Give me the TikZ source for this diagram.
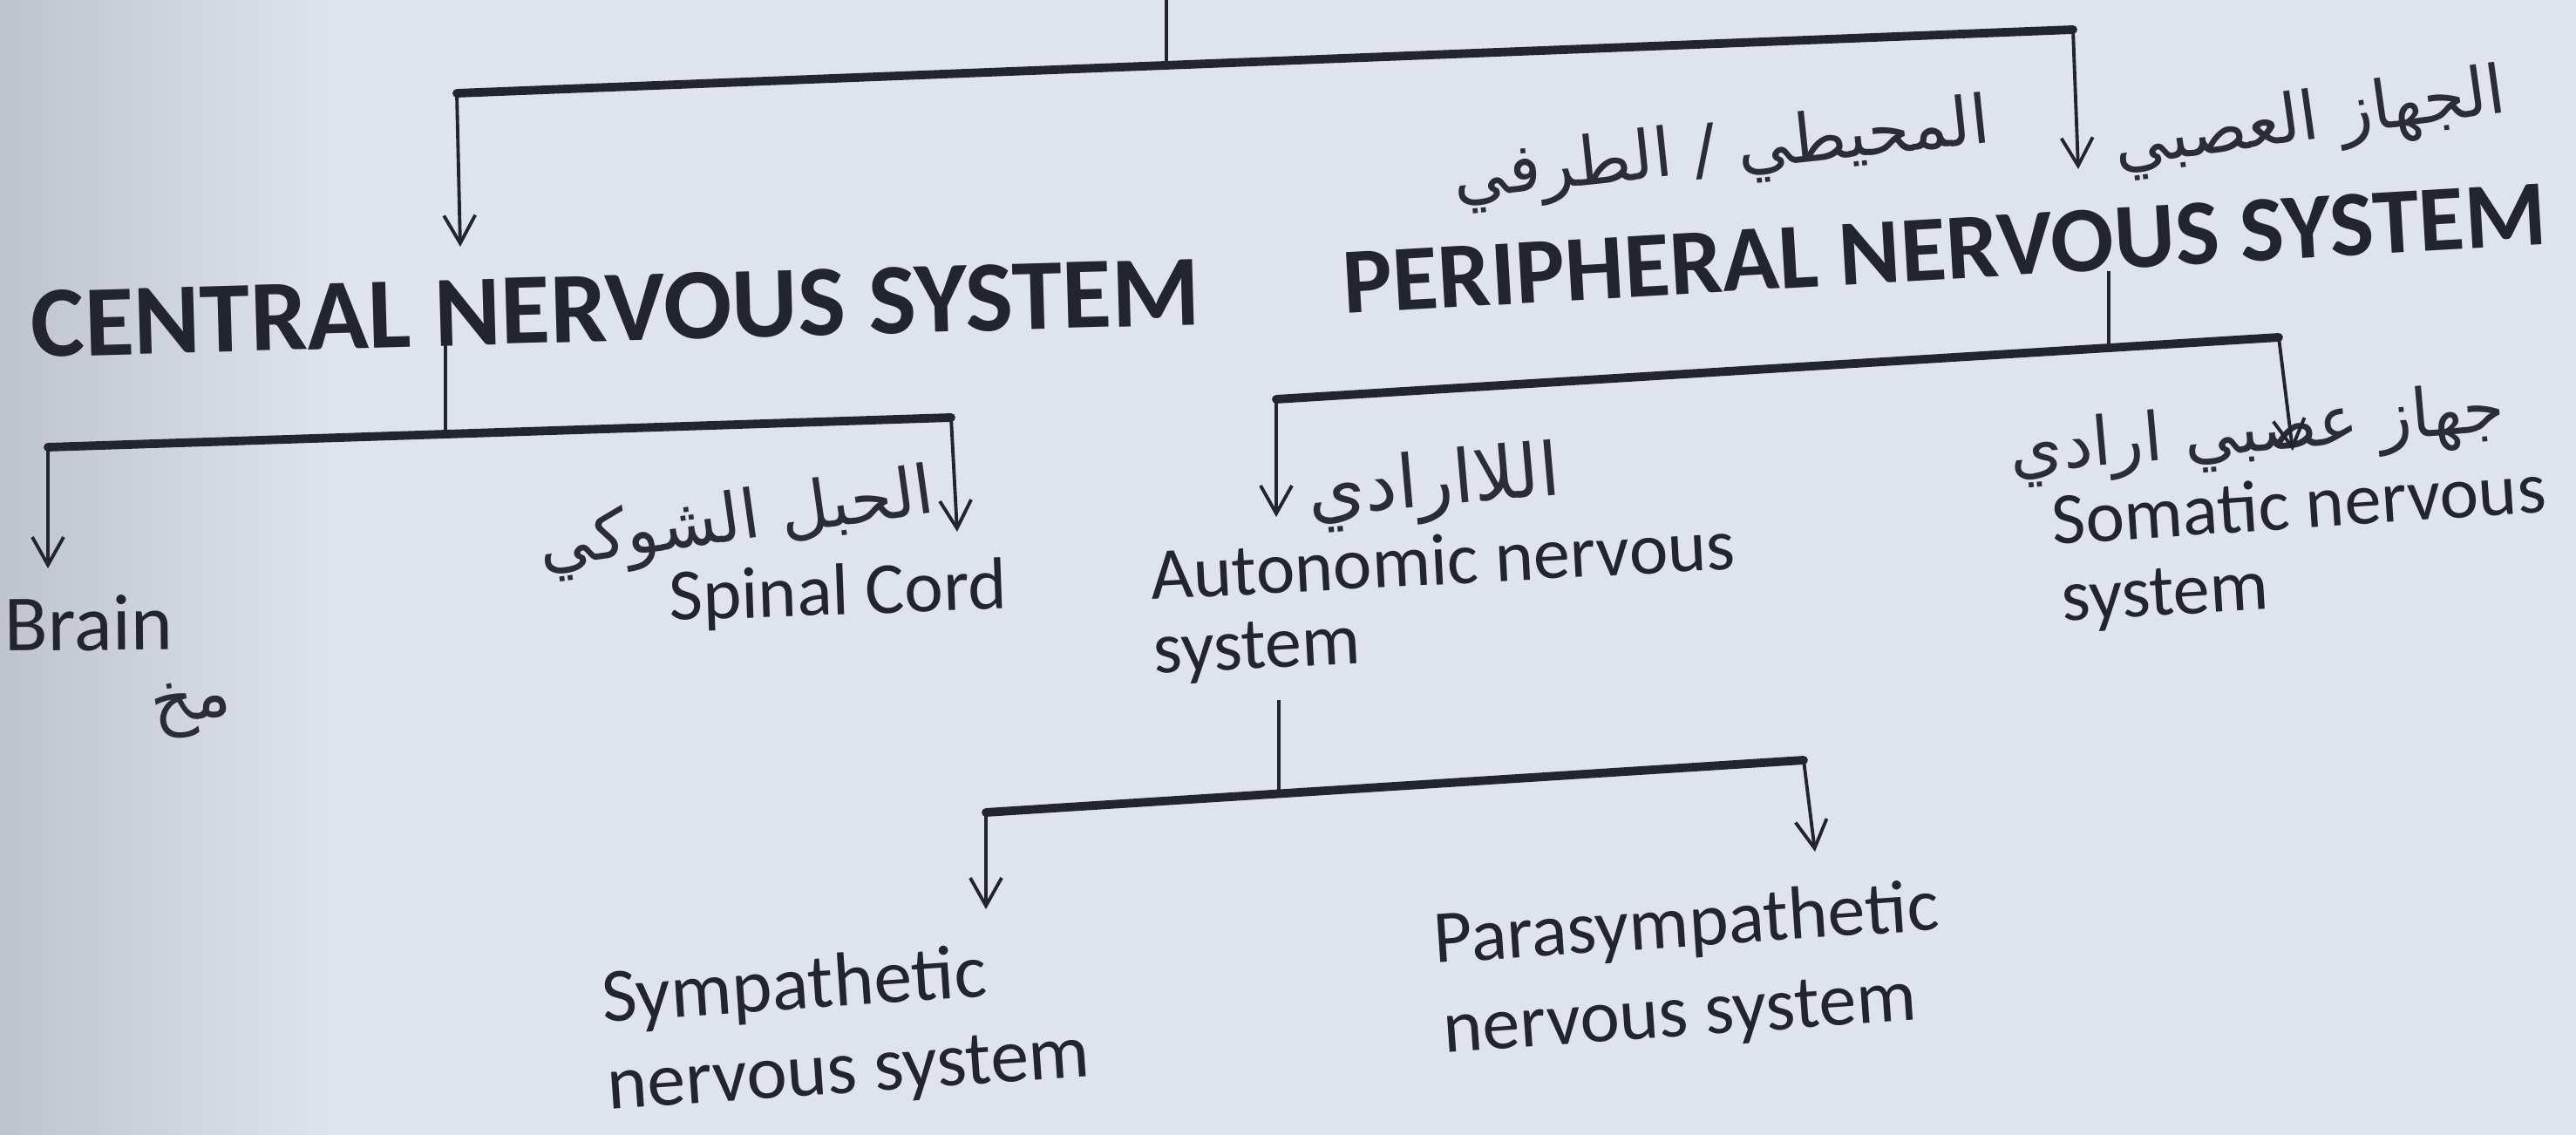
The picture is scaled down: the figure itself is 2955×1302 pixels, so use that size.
\documentclass[tikz,border=0pt]{standalone}
\usepackage{fontspec}
\setmainfont{Carlito}
\newfontfamily\arabicfont[Script=Arabic]{DejaVu Sans}
\TeXXeTstate=1
\usetikzlibrary{arrows.meta}
\definecolor{paper}{HTML}{DFE3EC}
\definecolor{paperdark}{HTML}{BFC3CC}
\definecolor{ink}{HTML}{22252E}
\definecolor{pen}{HTML}{2B2C36}
\tikzset{
  head/.style={inner sep=0pt, anchor=base west, text=ink, font=\fontsize{33}{38}\selectfont\bfseries},
  label/.style={inner sep=0pt, anchor=base west, text=ink, font=\fontsize{24}{28}\selectfont},
  hand/.style={inner sep=0pt, text=pen, font=\arabicfont\fontsize{22}{26}\selectfont},
  thinline/.style={draw=ink, line width=1.1pt},
  barline/.style={draw=ink, line width=2.8pt, line cap=round},
  arrowline/.style={draw=ink, line width=1.1pt, -{Straight Barb[length=3.2mm,width=3.6mm,line width=1.1pt]}}
}
\begin{document}
\begin{tikzpicture}[x=0.1mm,y=-0.1mm]
\useasboundingbox (0,0) rectangle (2955,1302);
\fill[paper] (0,0) rectangle (2955,1302);
% photocopy shading at the left edge
\shade[left color=paperdark, right color=paper] (0,0) rectangle (380,1302);

% ---- nodes ----
\node[head, rotate=1.6] (cns) at (36,410) {CENTRAL NERVOUS SYSTEM};
\node[head, rotate=3.3, font=\fontsize{30.5}{36}\selectfont\bfseries] (pns) at (1542,360) {PERIPHERAL NERVOUS SYSTEM};
\node[label, rotate=0.5, font=\fontsize{26}{30}\selectfont] (brain) at (5,747) {Brain};
\node[label, rotate=2] (sc) at (768,712) {Spinal Cord};
\node[label, rotate=3] (ans) at (1321,688) {Autonomic nervous};
\node[label, rotate=3] (ans2) at (1324,773) {system};
\node[label, rotate=3.8] (som) at (2355,625) {Somatic nervous};
\node[label, rotate=3.5] (som2) at (2366,713) {system};
\node[label, rotate=3.9, font=\fontsize{25}{29}\selectfont] (sym) at (692,1173) {Sympathetic};
\node[label, rotate=4, font=\fontsize{25}{29}\selectfont] (sym2) at (698,1273) {nervous system};
\node[label, rotate=3.8, font=\fontsize{24.5}{29}\selectfont] (para) at (1646,1105) {Parasympathetic};
\node[label, rotate=4, font=\fontsize{24.5}{29}\selectfont] (para2) at (1657,1208) {nervous system};

% handwritten Arabic notes
\node[hand, rotate=8] (pnsAr1) at (2650,140) {\beginR الجهاز العصبي\endR};
\node[hand, rotate=6] (pnsAr2) at (1975,176) {\beginR المحيطي / الطرفي\endR};
\node[hand, rotate=8] (scAr) at (845,600) {\beginR الحبل الشوكي\endR};
\node[hand, rotate=5, font=\arabicfont\fontsize{24}{28}\selectfont] (ansAr) at (1645,558) {\beginR اللاارادي\endR};
\node[hand, rotate=5] (somAr) at (2590,498) {\beginR جهاز عصبي ارادي\endR};
\node[hand, rotate=10] (brainAr) at (220,813) {\beginR مخ\endR};

% ---- connector points ----
\coordinate (top) at (1338,0);
\coordinate (tj) at (1338,75);
\coordinate (tl) at (524,107);
\coordinate (tr) at (2378,34);
\coordinate (cnsTip) at (528,283);
\coordinate (pnsTip) at (2384,194);

\coordinate (cnsStem) at (511,385);
\coordinate (cj) at (511,498);
\coordinate (cl) at (55,513);
\coordinate (cr) at (1091,479);
\coordinate (brainTip) at (55,652);
\coordinate (scTip) at (1098,610);

\coordinate (pnsStem) at (2419,311);
\coordinate (pj) at (2419,399);
\coordinate (pl) at (1464,458);
\coordinate (pr) at (2614,387);
\coordinate (ansTip) at (1464,593);
\coordinate (somTip) at (2630,517);

\coordinate (ansStem) at (1467,803);
\coordinate (aj) at (1467,910);
\coordinate (al) at (1131,932);
\coordinate (ar) at (2069,872);
\coordinate (symTip) at (1131,1043);
\coordinate (paraTip) at (2082,977);

% ---- connectors ----
\draw[thinline] (top) -- (tj);
\draw[barline] (tl) -- (tr);
\draw[arrowline] (tl) -- (cnsTip);
\draw[arrowline] (tr) -- (pnsTip);

\draw[thinline] (cnsStem) -- (cj);
\draw[barline] (cl) -- (cr);
\draw[arrowline] (cl) -- (brainTip);
\draw[arrowline] (cr) -- (scTip);

\draw[thinline] (pnsStem) -- (pj);
\draw[barline] (pl) -- (pr);
\draw[arrowline] (pl) -- (ansTip);
\draw[arrowline] (pr) -- (somTip);

\draw[thinline] (ansStem) -- (aj);
\draw[barline] (al) -- (ar);
\draw[arrowline] (al) -- (symTip);
\draw[arrowline] (ar) -- (paraTip);
\end{tikzpicture}
\end{document}
